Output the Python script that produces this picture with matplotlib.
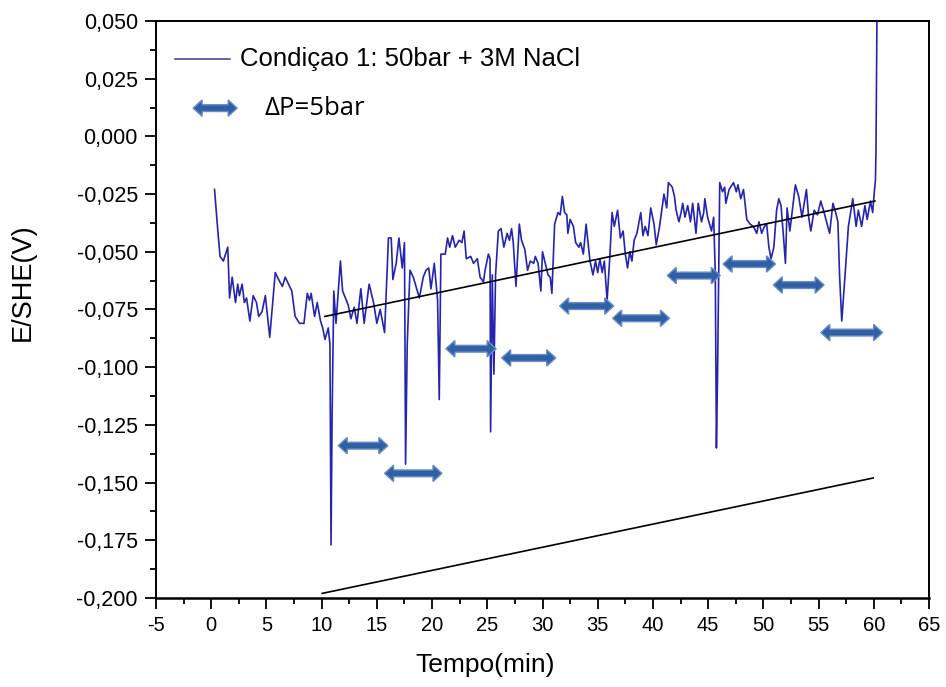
import matplotlib
matplotlib.use("Agg")
import matplotlib.pyplot as plt
import numpy as np
from matplotlib.patches import Polygon
from matplotlib.transforms import IdentityTransform
from matplotlib.ticker import MultipleLocator, FuncFormatter

plt.rcParams["axes.unicode_minus"] = False

# potential trace (min, V vs SHE)
tempo = [0.3, 0.6, 0.8, 1.1, 1.5, 1.66, 1.9, 2.2, 2.4, 2.55, 2.8, 3.0, 3.2, 3.5, 3.8,
         4.1, 4.3, 4.6, 4.9, 5.3, 5.8, 6.1, 6.45, 6.7, 7.0, 7.3, 7.6, 8.0, 8.4, 8.7,
         8.9, 9.05, 9.36, 9.6, 9.9, 10.1, 10.3, 10.6, 10.75, 10.85, 10.95, 11.1, 11.3,
         11.7, 11.9, 12.4, 12.65, 12.95, 13.2, 13.55, 13.85, 14.3, 14.7, 15.0, 15.3,
         15.7, 16.05, 16.3, 16.45, 16.75, 17.0, 17.3, 17.5, 17.6, 17.75, 18.0, 18.3,
         18.85, 19.2, 19.45, 19.7, 19.9, 20.2, 20.5, 20.65, 20.8, 21.2, 21.4, 21.6,
         21.85, 22.1, 22.45, 22.7, 22.9, 23.1, 23.5, 23.75, 24.1, 24.35, 24.65, 24.8,
         25.1, 25.25, 25.3, 25.45, 25.6, 25.75, 26.0, 26.25, 26.5, 26.8, 27.0, 27.2,
         27.35, 27.6, 27.9, 28.1, 28.4, 28.65, 28.9, 29.2, 29.35, 29.6, 29.85, 30.0,
         30.25, 30.5, 30.7, 30.85, 31.1, 31.4, 31.6, 31.8, 32.0, 32.2, 32.3, 32.5,
         32.8, 33.0, 33.3, 33.45, 33.7, 33.95, 34.3, 34.57, 34.8, 35.0, 35.2, 35.4,
         35.6, 35.85, 36.1, 36.3, 36.5, 36.8, 37.05, 37.3, 37.5, 37.7, 37.9, 38.1,
         38.3, 38.55, 38.9, 39.1, 39.3, 39.55, 39.8, 40.1, 40.3, 40.6, 41.0, 41.25,
         41.4, 41.75, 41.95, 42.1, 42.35, 42.55, 42.7, 42.9, 43.15, 43.4, 43.6, 43.9,
         44.1, 44.4, 44.6, 44.7, 44.95, 45.3, 45.5, 45.65, 45.75, 45.85, 45.95, 46.05,
         46.3, 46.5, 46.6, 46.9, 47.3, 47.55, 47.7, 47.95, 48.2, 48.5, 48.8, 49.1,
         49.4, 49.6, 49.85, 50.1, 50.3, 50.5, 50.7, 50.95, 51.2, 51.4, 51.6, 51.8,
         52.0, 52.15, 52.4, 52.9, 53.2, 53.5, 53.9, 54.1, 54.3, 54.6, 54.9, 55.2,
         55.5, 56.0, 56.3, 56.55, 56.75, 56.9, 57.1, 57.4, 57.7, 58.1, 58.4, 58.6,
         58.9, 59.2, 59.4, 59.7, 59.9, 60.05, 60.15, 60.2, 60.3]
potencial = [-0.023, -0.041, -0.052, -0.054, -0.048, -0.070, -0.061, -0.072, -0.064, -0.069,
             -0.064, -0.072, -0.070, -0.080, -0.069, -0.072, -0.078, -0.076, -0.069, -0.087,
             -0.059, -0.062, -0.065, -0.061, -0.064, -0.067, -0.078, -0.081, -0.081, -0.068,
             -0.071, -0.068, -0.078, -0.072, -0.080, -0.083, -0.088, -0.083, -0.090, -0.177,
             -0.120, -0.067, -0.081, -0.054, -0.067, -0.073, -0.079, -0.074, -0.081, -0.066,
             -0.081, -0.064, -0.072, -0.081, -0.075, -0.085, -0.044, -0.044, -0.062, -0.055,
             -0.044, -0.057, -0.046, -0.142, -0.090, -0.058, -0.061, -0.070, -0.061, -0.058,
             -0.057, -0.066, -0.055, -0.071, -0.114, -0.051, -0.051, -0.044, -0.048, -0.043,
             -0.048, -0.045, -0.046, -0.041, -0.053, -0.052, -0.055, -0.053, -0.061, -0.063,
             -0.058, -0.051, -0.053, -0.128, -0.060, -0.103, -0.060, -0.041, -0.040, -0.048,
             -0.042, -0.045, -0.040, -0.046, -0.065, -0.038, -0.045, -0.049, -0.058, -0.054,
             -0.055, -0.052, -0.055, -0.067, -0.050, -0.055, -0.060, -0.061, -0.068, -0.038,
             -0.033, -0.034, -0.026, -0.033, -0.034, -0.042, -0.036, -0.039, -0.046, -0.048,
             -0.046, -0.051, -0.038, -0.054, -0.060, -0.054, -0.059, -0.053, -0.059, -0.054,
             -0.071, -0.052, -0.033, -0.039, -0.032, -0.044, -0.041, -0.051, -0.057, -0.050,
             -0.054, -0.045, -0.042, -0.033, -0.043, -0.039, -0.043, -0.031, -0.038, -0.047,
             -0.039, -0.025, -0.031, -0.020, -0.022, -0.026, -0.032, -0.037, -0.033, -0.029,
             -0.035, -0.030, -0.037, -0.029, -0.042, -0.029, -0.037, -0.033, -0.027, -0.035,
             -0.041, -0.035, -0.060, -0.135, -0.104, -0.060, -0.020, -0.024, -0.022, -0.029,
             -0.023, -0.020, -0.024, -0.021, -0.027, -0.023, -0.036, -0.038, -0.039, -0.042,
             -0.037, -0.042, -0.039, -0.038, -0.048, -0.053, -0.048, -0.032, -0.027, -0.030,
             -0.042, -0.055, -0.031, -0.041, -0.021, -0.026, -0.035, -0.023, -0.035, -0.041,
             -0.032, -0.034, -0.028, -0.033, -0.042, -0.029, -0.033, -0.037, -0.060, -0.080,
             -0.060, -0.039, -0.027, -0.039, -0.032, -0.039, -0.030, -0.036, -0.028, -0.033,
             -0.024, -0.019, -0.006, 0.060]

# drawn trend lines (start/end)
trend_t = [10.3, 60.1]
trend_e = [-0.078, -0.028]
trend2_t = [10.05, 59.95]
trend2_e = [-0.198, -0.148]

# pressure-step arrows: start, end, level
seta_ini = [11.5, 15.7, 21.25, 26.3, 31.55, 36.35, 41.3, 46.35, 50.9, 55.2]
seta_fim = [16.0, 20.9, 25.8, 31.2, 36.45, 41.5, 46.1, 51.1, 55.5, 60.8]
seta_e = [-0.134, -0.146, -0.092, -0.096, -0.0735, -0.0788, -0.0603, -0.0553, -0.0644, -0.085]

W, H = 946, 687
fig = plt.figure(figsize=(W / 100, H / 100), dpi=100)
ax = fig.add_axes([156 / W, 1 - 598 / H, 773 / W, 577 / H])

ax.plot(tempo, potencial, color="#2424B0", lw=1.2)
ax.plot(trend_t, trend_e, color="black", lw=1.2)
ax.plot(trend2_t, trend2_e, color="black", lw=1.2)

ax.set_xlim(-5, 65)
ax.set_ylim(-0.200, 0.050)
ax.xaxis.set_major_locator(MultipleLocator(5))
ax.xaxis.set_minor_locator(MultipleLocator(2.5))
ax.yaxis.set_major_locator(MultipleLocator(0.025))
ax.yaxis.set_minor_locator(MultipleLocator(0.0125))
ax.yaxis.set_major_formatter(FuncFormatter(lambda v, p: f"{v:.3f}".replace(".", ",").replace("-0,000", "0,000")))
ax.tick_params(which="both", direction="out", top=False, right=False, width=1.3)
ax.tick_params(which="major", length=8, pad=5)
ax.tick_params(axis="x", which="major", labelsize=14.5)
ax.tick_params(axis="y", which="major", labelsize=15.5)
ax.tick_params(which="minor", length=4.5)
for lab in ax.get_xticklabels() + ax.get_yticklabels():
    lab.set_family("Liberation Sans")
for s in ax.spines.values():
    s.set_linewidth(1.4)
ax.spines["bottom"].set_linewidth(1.8)

ax.set_xlabel("Tempo(min)", fontsize=19, family="Liberation Sans")
ax.set_ylabel("E/SHE(V)", fontsize=19.5, family="Liberation Sans")
ax.xaxis.set_label_coords(0.426, -0.116)
ax.yaxis.set_label_coords(-0.173, 0.548)
ax.xaxis.label.set_va("center")
ax.yaxis.label.set_va("center")


def double_arrow(p0, p1, half=3.4, head=8.2, hl=9.0):
    (x0, y), (x1, _) = p0, p1
    pts = [(x0, y), (x0 + hl, y + head), (x0 + hl, y + half), (x1 - hl, y + half),
           (x1 - hl, y + head), (x1, y), (x1 - hl, y - head), (x1 - hl, y - half),
           (x0 + hl, y - half), (x0 + hl, y - head)]
    fig.patches.append(Polygon(pts, closed=True, transform=IdentityTransform(),
                               facecolor="#3060A4", edgecolor="#6A8CC8", lw=1.0, figure=fig))


for a, b, e in zip(seta_ini, seta_fim, seta_e):
    double_arrow(ax.transData.transform((a, e)), ax.transData.transform((b, e)))

# legend drawn by hand
ax.plot([0.025, 0.096], [0.934, 0.934], transform=ax.transAxes, color="#3A3A90", lw=1.1)
ax.text(0.109, 0.934, "Condiçao 1: 50bar + 3M NaCl", transform=ax.transAxes,
        fontsize=18.5, family="Liberation Sans", va="center")
double_arrow(ax.transAxes.transform((0.048, 0.849)), ax.transAxes.transform((0.105, 0.849)))
ax.text(0.141, 0.849, "ΔP=5bar", transform=ax.transAxes, fontsize=18.5,
        family=["Open Sans", "DejaVu Sans"], va="center")

fig.savefig("out.png", dpi=100)
